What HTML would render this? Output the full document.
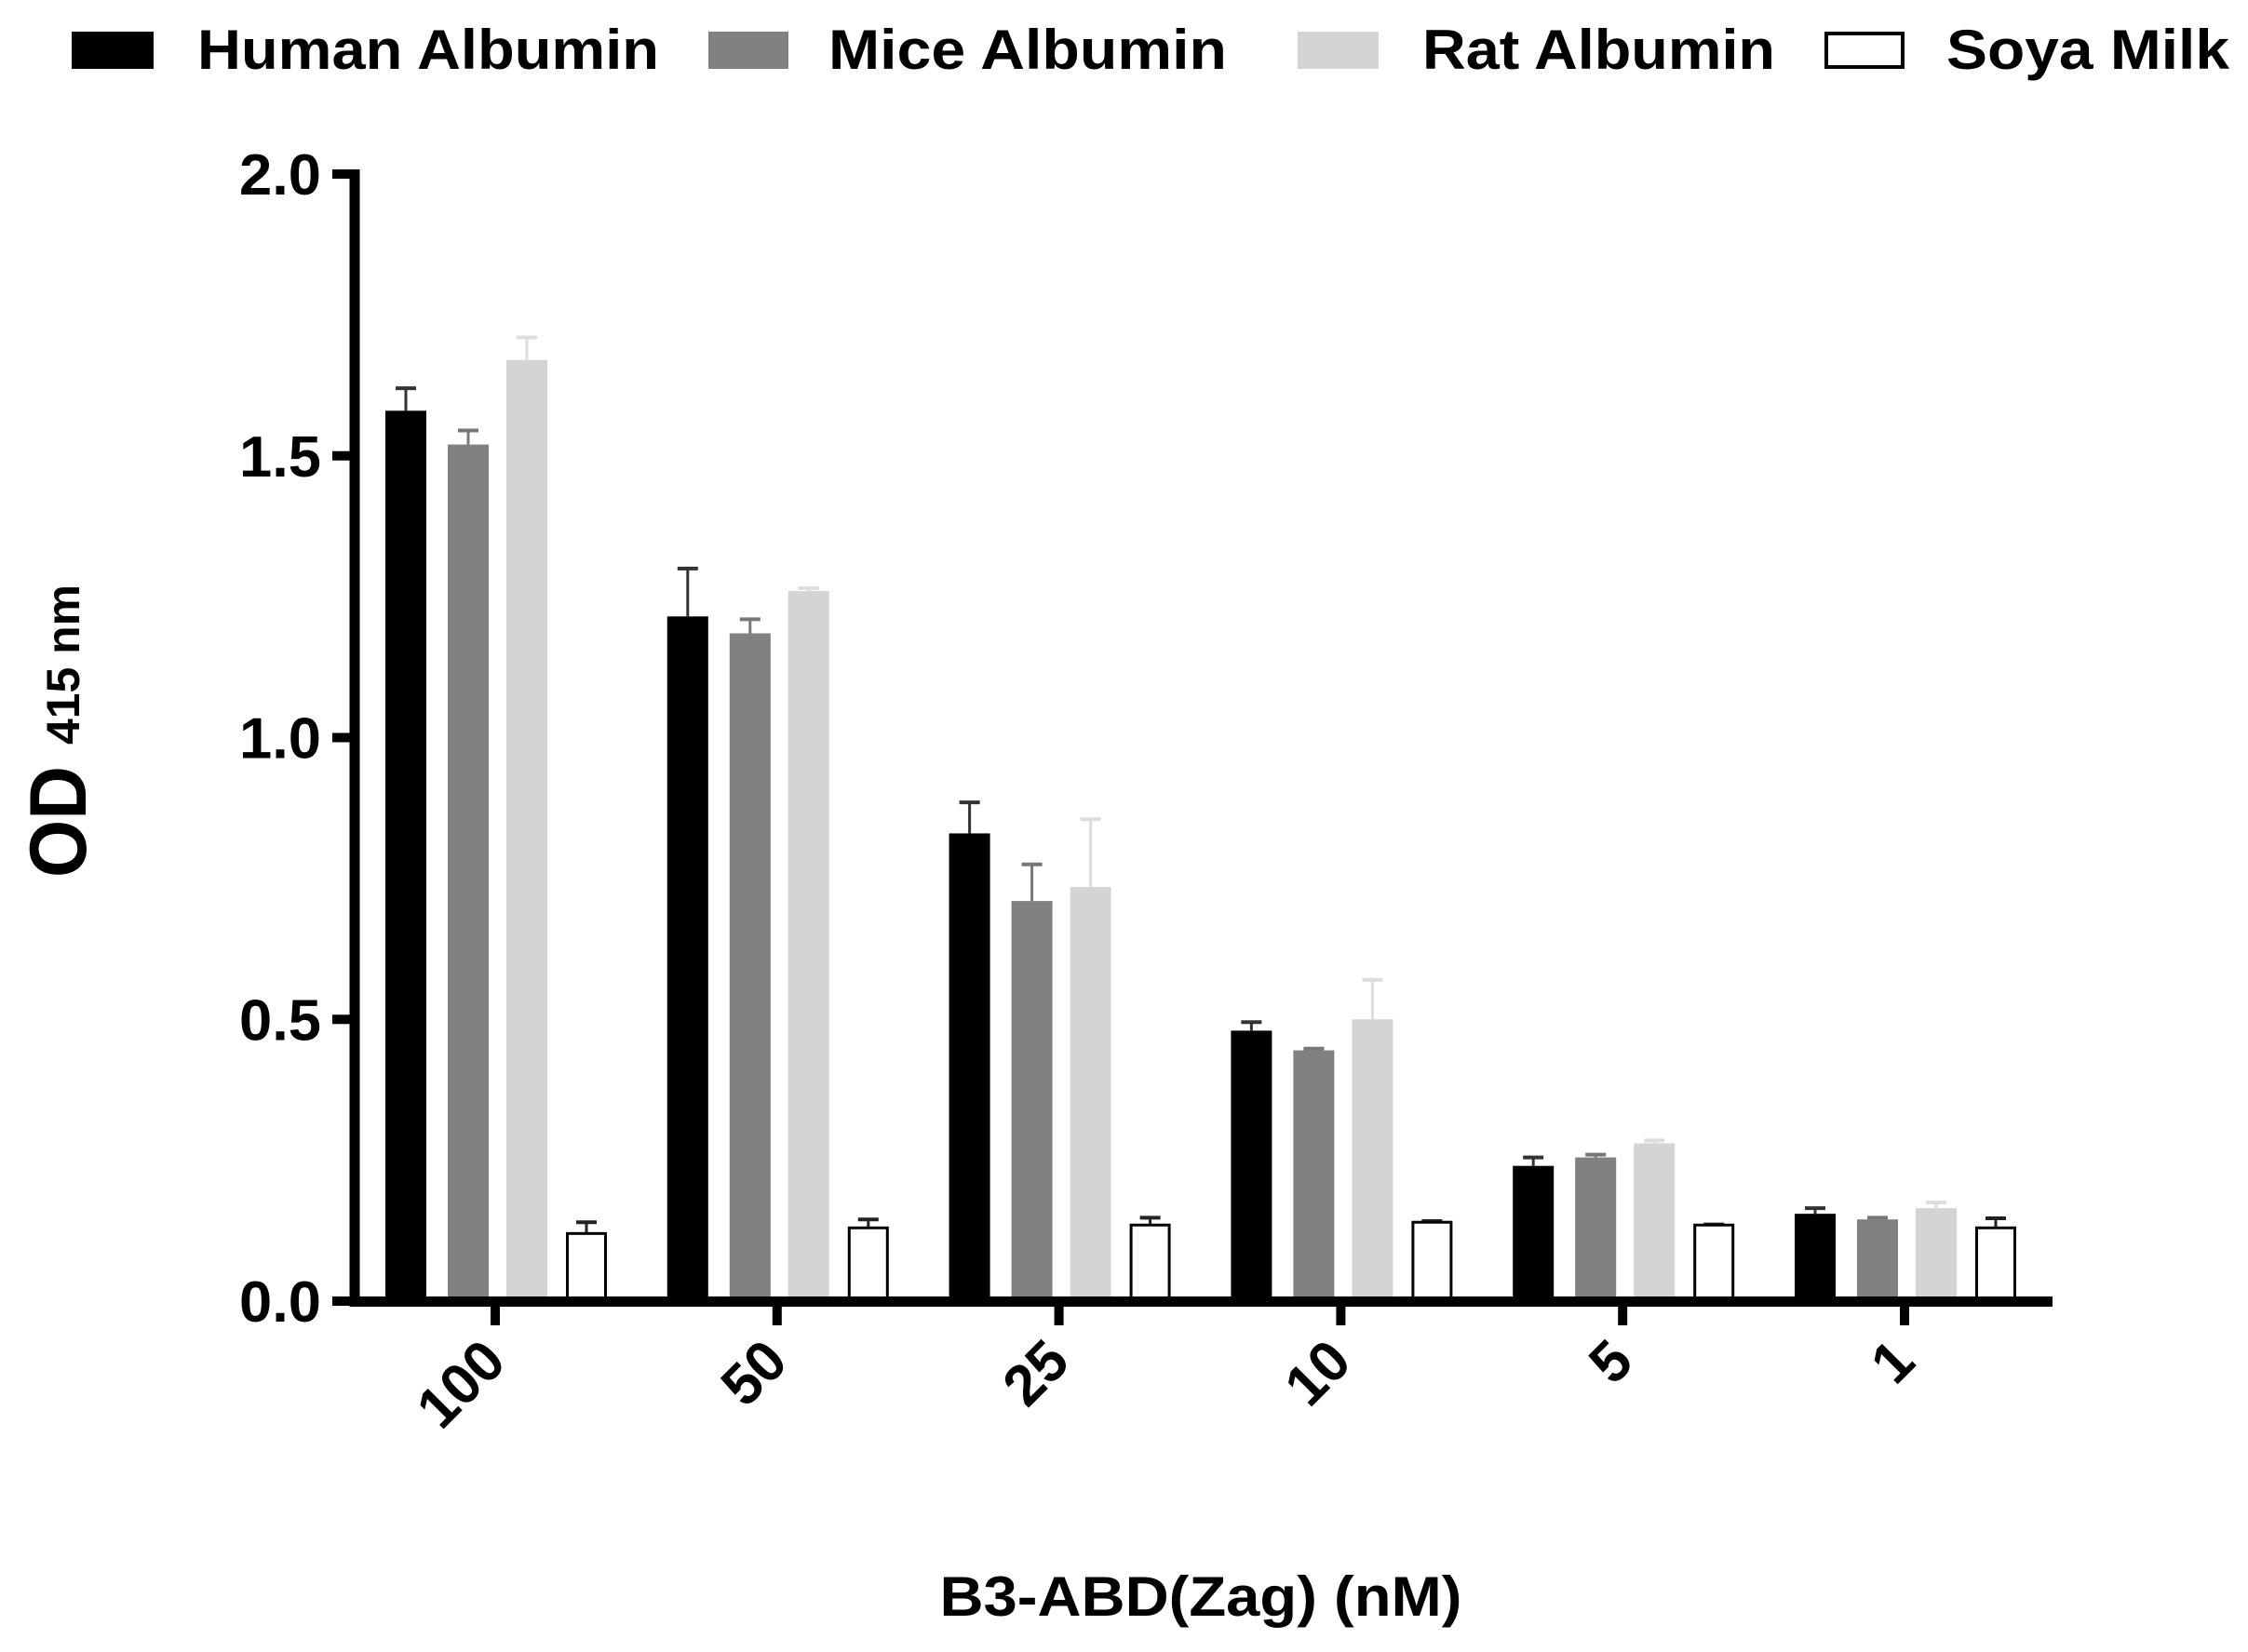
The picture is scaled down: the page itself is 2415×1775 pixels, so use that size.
<!DOCTYPE html>
<html><head><meta charset="utf-8"><style>
html,body{margin:0;padding:0;background:#fff;}
svg{display:block;font-family:"Liberation Sans",Arial,sans-serif;font-weight:bold;}
</style></head><body>
<svg id="chart" width="2415" height="1775" viewBox="0 0 2415 1775">
<g id="legend">
<g><rect x="77" y="34" width="88" height="40" fill="#000"/><text x="212" y="74" font-size="60" textLength="496" lengthAdjust="spacingAndGlyphs">Human Albumin</text></g>
<g><rect x="761" y="34" width="86" height="40" fill="#808080"/><text x="890" y="74" font-size="60" textLength="428" lengthAdjust="spacingAndGlyphs">Mice Albumin</text></g>
<g><rect x="1394" y="34" width="87" height="40" fill="#d4d4d4"/><text x="1528" y="74" font-size="60" textLength="379" lengthAdjust="spacingAndGlyphs">Rat Albumin</text></g>
<g><rect x="1962" y="36" width="82" height="36" fill="#fff" stroke="#000" stroke-width="4"/><text x="2091" y="74" font-size="60" textLength="304" lengthAdjust="spacingAndGlyphs">Soya Milk</text></g>
</g>
<g id="bars"></g>
<g id="axes"></g>
<text x="1290" y="1736" font-size="60" text-anchor="middle" textLength="561" lengthAdjust="spacingAndGlyphs">B3-ABD(Zag) (nM)</text>
<g transform="translate(92,943) rotate(-90)">
<text x="0" y="0" font-size="86" textLength="120" lengthAdjust="spacingAndGlyphs">OD</text>
<text x="143" y="-7" font-size="50" textLength="172" lengthAdjust="spacingAndGlyphs">415 nm</text>
</g>
</svg>
<script>
const categories = ["100","50","25","10","5","1"];
const human = [1.58,1.215,0.83,0.48,0.24,0.155];
const humanErr = [0.04,0.085,0.055,0.015,0.015,0.01];
const mice = [1.52,1.185,0.71,0.445,0.255,0.145];
const miceErr = [0.025,0.025,0.065,0.003,0.005,0.003];
const rat = [1.67,1.26,0.735,0.50,0.28,0.165];
const ratErr = [0.04,0.005,0.12,0.07,0.005,0.01];
const soya = [0.12,0.13,0.135,0.14,0.135,0.13];
const soyaErr = [0.02,0.015,0.013,0.002,0.001,0.017];
const yTicks = [0,0.5,1.0,1.5,2.0];
const yTickLabels = ["0.0","0.5","1.0","1.5","2.0"];

const NS="http://www.w3.org/2000/svg";
function y(v){return 1398 - v*(1398-187)/2.0;}
function xc(i){return 532 + i*302.8;}
function mk(tag,attrs,parent){const e=document.createElementNS(NS,tag);for(const k in attrs)e.setAttribute(k,attrs[k]);parent.appendChild(e);return e;}
const bars=document.getElementById('bars');
const axes=document.getElementById('axes');
const series=[
 {name:'human-albumin',vals:human,err:humanErr,off:-118,fill:'#000',ec:'#333'},
 {name:'mice-albumin',vals:mice,err:miceErr,off:-51,fill:'#808080',ec:'#777'},
 {name:'rat-albumin',vals:rat,err:ratErr,off:12,fill:'#d4d4d4',ec:'#ddd'},
 {name:'soya-milk',vals:soya,err:soyaErr,off:76,fill:'#fff',ec:'#222'}
];
series.forEach(s=>{
 s.vals.forEach((v,i)=>{
  const x=xc(i)+s.off, w=44, cx=x+w/2;
  const top=y(v), et=y(v+s.err[i]);
  const ln=mk('line',{x1:cx,x2:cx,y1:top,y2:et,stroke:s.ec,'stroke-width':3},bars);
  
  
  const cap=mk('line',{x1:cx-11,x2:cx+11,y1:et,y2:et,stroke:s.ec,'stroke-width':4},bars);
  
  
  let r;
  if(s.fill==='#fff') r=mk('rect',{x:x+1.5,y:top,width:w-3,height:1398-top,fill:'#fff',stroke:'#000','stroke-width':3},bars);
  else r=mk('rect',{x:x,y:top,width:w,height:1398-top,fill:s.fill},bars);
  
  
 });
});
const ya=mk('line',{x1:381,x2:381,y1:182,y2:1404,stroke:'#000','stroke-width':11},axes);


const xa=mk('line',{x1:376,x2:2205,y1:1398.5,y2:1398.5,stroke:'#000','stroke-width':11},axes);


yTicks.forEach((t,i)=>{
 const yy=y(t);
 const tk=mk('line',{x1:357,x2:380,y1:yy,y2:yy,stroke:'#000','stroke-width':10},axes);
 
 
 const tx=mk('text',{x:345,y:yy+22,'font-size':62,'text-anchor':'end',textLength:88,lengthAdjust:'spacingAndGlyphs'},axes);
 tx.textContent=yTickLabels[i];
 
 
});
categories.forEach((c,i)=>{
 const x=xc(i);
 const tk=mk('line',{x1:x,x2:x,y1:1398,y2:1424,stroke:'#000','stroke-width':10},axes);
 
 
 const tx=mk('text',{x:0,y:0,'font-size':62,'text-anchor':'end',lengthAdjust:'spacingAndGlyphs',transform:`translate(${x+14},${1466}) rotate(-45)`},axes);
 tx.setAttribute('textLength', String(c.length*34));
 tx.textContent=c;
 
 
});
</script>
</body></html>
